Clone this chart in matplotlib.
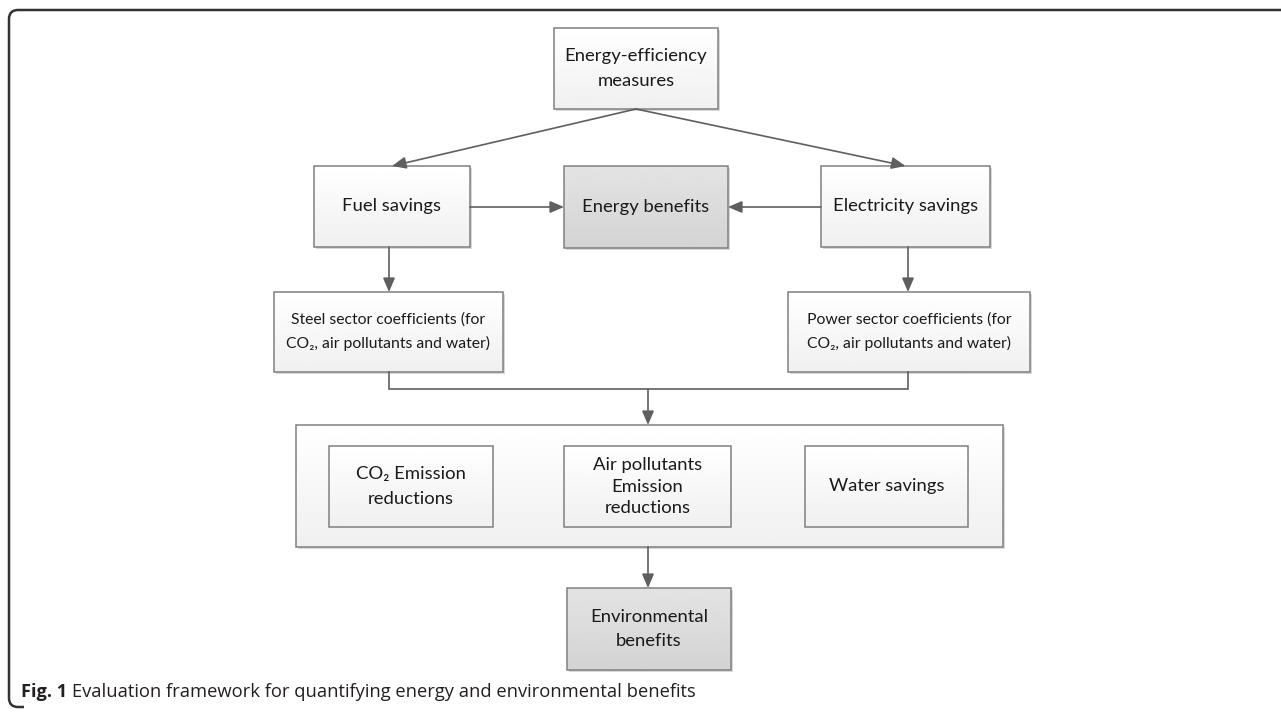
import matplotlib
matplotlib.use("Agg")
import matplotlib.pyplot as plt
import numpy as np
from matplotlib.patches import Rectangle
from matplotlib.path import Path
from matplotlib.patches import PathPatch

plt.rcParams['font.family'] = ['Lato', 'DejaVu Sans']

# ---- content ----
node_names = ["measures", "fuel", "energy", "elec", "steel", "power",
              "group", "co2", "air", "water", "env"]
node_labels = ["Energy-efficiency\nmeasures", "Fuel savings", "Energy benefits",
               "Electricity savings",
               "Steel sector coefficients (for\nCO\u2082, air pollutants and water)",
               "Power sector coefficients (for\nCO\u2082, air pollutants and water)",
               "", "CO\u2082 Emission\nreductions", "Air pollutants\nEmission\nreductions",
               "Water savings", "Environmental\nbenefits"]
highlighted = ["energy", "env"]
caption_bold = "Fig. 1"
caption_text = "Evaluation framework for quantifying energy and environmental benefits"

# ---- layout (pixels: x0, y0, x1, y1) ----
boxes = {
    "measures": (554, 28, 718, 109),
    "fuel": (314, 166, 470, 247),
    "energy": (564, 166, 728, 248),
    "elec": (821, 166, 990, 247),
    "steel": (274, 292, 503, 372),
    "power": (788, 292, 1030, 372),
    "group": (296, 425, 1003, 547),
    "co2": (329, 446, 493, 527),
    "air": (564, 446, 731, 527),
    "water": (805, 446, 968, 527),
    "env": (567, 588, 731, 670),
}
fontsizes = {"steel": 11.3, "power": 11.3}
linespacings = {"steel": 1.75, "power": 1.75, "air": 1.45}

W, H = 1281, 714
fig = plt.figure(figsize=(W / 100, H / 100), dpi=100)
ax = fig.add_axes([0, 0, 1, 1])
ax.set_xlim(0, W)
ax.set_ylim(H, 0)
ax.axis("off")

edge = "#808080"
line_c = "#5f5f5f"


def draw_box(name, label):
    x0, y0, x1, y1 = boxes[name]
    # shadow
    ax.add_patch(Rectangle((x0 + 2, y0 + 2), x1 - x0, y1 - y0,
                           facecolor="#d8d8d8", edgecolor="none", zorder=1))
    if name in highlighted:
        top, bot = 0.89, 0.83
    else:
        top, bot = 1.0, 0.94
    grad = np.linspace(top, bot, 64).reshape(-1, 1)
    ax.imshow(grad, cmap="gray", vmin=0, vmax=1, aspect="auto",
              extent=(x0, x1, y1, y0), zorder=2, interpolation="bilinear")
    ax.add_patch(Rectangle((x0, y0), x1 - x0, y1 - y0, facecolor="none",
                           edgecolor=edge, lw=1.1, zorder=3))
    if label:
        ax.text((x0 + x1) / 2, (y0 + y1) / 2, label, ha="center", va="center",
                fontsize=fontsizes.get(name, 13.3), color="#1a1a1a",
                linespacing=linespacings.get(name, 1.62), zorder=4)


for n, lab in zip(node_names, node_labels):
    if n == "group":
        draw_box(n, lab)
for n, lab in zip(node_names, node_labels):
    if n != "group":
        draw_box(n, lab)


def arrow(p0, p1):
    ax.annotate("", xy=p1, xytext=p0,
                arrowprops=dict(arrowstyle="-|>,head_length=0.7,head_width=0.3",
                                color=line_c, lw=1.2, shrinkA=0, shrinkB=0,
                                mutation_scale=12), zorder=5)


def cx(n):
    return (boxes[n][0] + boxes[n][2]) / 2


def cy(n):
    return (boxes[n][1] + boxes[n][3]) / 2


m = boxes["measures"]
arrow((cx("measures"), m[3]), (cx("fuel"), boxes["fuel"][1]))
arrow((cx("measures"), m[3]), (cx("elec"), boxes["elec"][1]))
arrow((boxes["fuel"][2], cy("energy")), (boxes["energy"][0], cy("energy")))
arrow((boxes["elec"][0], cy("energy")), (boxes["energy"][2], cy("energy")))
arrow((389, boxes["fuel"][3]), (389, boxes["steel"][1]))
arrow((908, boxes["elec"][3]), (908, boxes["power"][1]))

# connector from coefficient boxes
yj = 389
ax.plot([389, 389, 908, 908], [boxes["steel"][3], yj, yj, boxes["power"][3]],
        color=line_c, lw=1.2, zorder=5, solid_joinstyle="miter")
arrow((648, yj), (648, boxes["group"][1]))
arrow((648, boxes["group"][3]), (648, boxes["env"][1]))

# outer frame (left bracket with rounded corners)
r = 9
verts = [(W + 5, 10), (9 + r, 10), (9, 10), (9, 10 + r), (9, 707 - r), (9, 707),
         (9 + r, 707), (24, 707)]
codes = [Path.MOVETO, Path.LINETO, Path.CURVE3, Path.CURVE3, Path.LINETO,
         Path.CURVE3, Path.CURVE3, Path.LINETO]
ax.add_patch(PathPatch(Path(verts, codes), facecolor="none", edgecolor="#333333",
                       lw=1.8, zorder=6))

# caption
t = ax.text(21, 692, caption_bold, fontsize=13.1, fontweight="bold", color="#231f20",
            ha="left", va="center", family=["Open Sans", "DejaVu Sans"])
fig.canvas.draw()
bb = t.get_window_extent()
inv = ax.transData.inverted()
xd = inv.transform((bb.x1, 0))[0]
ax.text(xd + 5, 692, caption_text, fontsize=13.2, color="#231f20",
        ha="left", va="center", family=["Open Sans", "DejaVu Sans"])

fig.savefig("out.png", dpi=100)
